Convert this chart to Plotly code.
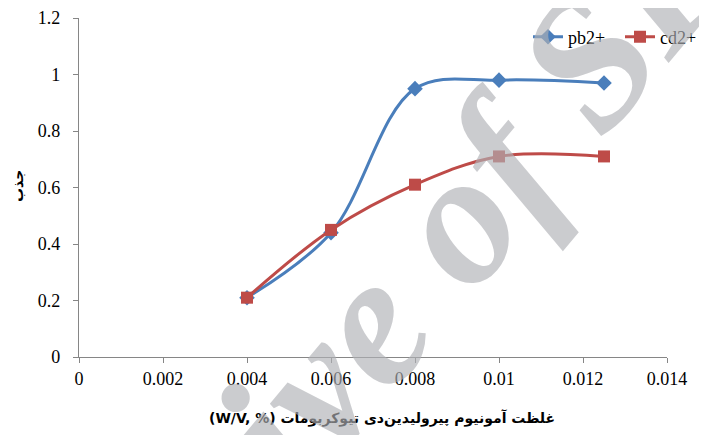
import plotly.graph_objects as go

# Data
x_vals = [0.004, 0.006, 0.008, 0.01, 0.0125]
pb2 = [0.21, 0.44, 0.95, 0.98, 0.97]
cd2 = [0.21, 0.45, 0.61, 0.71, 0.71]
x_ticks = [0, 0.002, 0.004, 0.006, 0.008, 0.01, 0.012, 0.014]
x_tick_text = ["0", "0.002", "0.004", "0.006", "0.008", "0.01", "0.012", "0.014"]
y_ticks = [0, 0.2, 0.4, 0.6, 0.8, 1.0, 1.2]
y_tick_text = ["0", "0.2", "0.4", "0.6", "0.8", "1", "1.2"]

# page body has an 8px margin; compensate so the plot lands where the reference has it
OFF = 8
W, H = 707 - OFF, 435 - OFF
PL, PR, PT, PB = 79, 667, 18, 357          # plot area in screenshot pixels
L, T = PL - OFF, PT - OFF
R, B = W - (PR - OFF), H - (PB - OFF)
pw, ph = PR - PL, PB - PT

def px(xs):
    return (xs - PL) / pw

def py(ys):
    return (PB - ys) / ph

FONT = "Liberation Serif, Times New Roman, DejaVu Serif, serif"
AR = "DejaVu Sans, Noto Sans, sans-serif"

fig = go.Figure()
fig.add_trace(go.Scatter(
    x=x_vals, y=pb2, name="pb2+", mode="lines+markers",
    line=dict(color="#4a7ebb", width=3, shape="spline", smoothing=1.0),
    marker=dict(symbol="diamond", size=12, color="#4a7ebb"),
))
fig.add_trace(go.Scatter(
    x=x_vals, y=cd2, name="cd2+", mode="lines+markers",
    line=dict(color="#be4b48", width=3, shape="spline", smoothing=1.0),
    marker=dict(symbol="square", size=12, color="#be4b48"),
))

axis_common = dict(
    showgrid=False, zeroline=False, showline=True, linecolor="#868686", linewidth=1.3,
    ticks="outside", ticklen=5, tickcolor="#868686", automargin=False,
    tickfont=dict(family=FONT, size=18, color="#000000"),
)
fig.update_xaxes(range=[0, 0.014], tickvals=x_ticks, ticktext=x_tick_text, **axis_common)
fig.update_yaxes(range=[0, 1.2], tickvals=y_ticks, ticktext=y_tick_text,
                 ticklabelstandoff=9, **axis_common)

fig.update_layout(
    width=W, height=H,
    margin=dict(l=L, r=R, t=T, b=B, autoexpand=False),
    paper_bgcolor="white", plot_bgcolor="white",
    showlegend=True,
    legend=dict(
        orientation="h", x=px(528), y=py(37), xanchor="left", yanchor="middle",
        font=dict(family=FONT, size=18, color="#000000"),
        bgcolor="rgba(0,0,0,0)", itemwidth=30, tracegroupgap=0,
        entrywidth=47, entrywidthmode="pixels",
    ),
    annotations=[
        dict(text="(W/V, %) غلظت آمونیوم پیرولیدین‌دی تیوکربومات",
             xref="paper", yref="paper", x=px(382), y=py(418),
             xanchor="center", yanchor="middle", showarrow=False,
             font=dict(family=AR, size=14, color="#000000", weight="bold")),
        dict(text="جذب", textangle=-90,
             xref="paper", yref="paper", x=px(18), y=py(186),
             xanchor="center", yanchor="middle", showarrow=False,
             font=dict(family=AR, size=14, color="#000000", weight="bold")),
        dict(text="Archive of SID", textangle=-50,
             xref="paper", yref="paper", x=px(376), y=py(312),
             xanchor="center", yanchor="middle", showarrow=False,
             font=dict(family=FONT, size=188, color="rgba(175,177,181,0.65)",
                       weight="bold", style="italic")),
    ],
)

fig.write_html("out.html")
